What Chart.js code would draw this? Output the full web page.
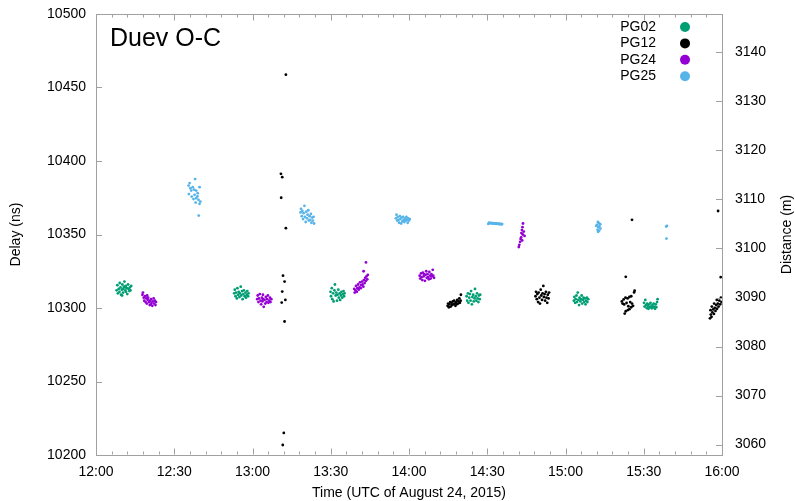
<!DOCTYPE html>
<html>
<head>
<meta charset="utf-8">
<title>Duev O-C</title>
<script src="https://cdn.jsdelivr.net/npm/chart.js@4.4.1/dist/chart.umd.min.js"></script>
<style>
  html, body { margin: 0; padding: 0; background: #fff; }
</style>
</head>
<body>
<canvas id="chart" width="795" height="501"></canvas>
<script>
// minutes after 12:00 UTC, delay in ns
const xTickLabels = ['12:00', '12:30', '13:00', '13:30', '14:00', '14:30', '15:00', '15:30', '16:00'];
const delayTicks = [10200, 10250, 10300, 10350, 10400, 10450, 10500];
const distanceTicks = [3060, 3070, 3080, 3090, 3100, 3110, 3120, 3130, 3140];
const seriesNames = ['PG02', 'PG12', 'PG24', 'PG25'];

const pg02 = [
  [7.9,10312],[8.2,10315.5],[8.4,10310],[8.7,10313],[9.0,10311],[9.1,10317],[9.4,10314],[9.6,10309],
  [9.9,10312.5],[10.1,10316],[10.3,10313],[10.4,10310.5],[10.7,10314.5],[10.9,10318],[11.2,10312],[11.4,10315],
  [11.5,10311],[11.8,10313.5],[12.0,10309.5],[12.3,10316],[12.5,10313],[12.8,10311.5],[13.0,10314],[13.2,10312],
  [13.5,10315],[10.0,10308.5],[11.1,10314],
  [53.0,10310],[53.2,10312.5],[53.5,10308],[53.7,10310.5],[54.0,10306.5],[54.2,10313.5],[54.5,10309],[54.7,10311],
  [55.0,10307.5],[55.2,10310],[55.5,10314.5],[55.7,10308.5],[56.0,10311.5],[56.2,10306],[56.5,10309.5],[56.7,10312],
  [57.0,10308],[57.3,10310.5],[57.5,10307],[57.8,10309],[58.0,10311.5],[58.3,10308],[58.5,10310],
  [89.9,10311],[90.1,10308],[90.4,10313.5],[90.6,10306],[90.9,10310],[91.1,10304.5],[91.4,10312],[91.6,10316],
  [91.9,10308.5],[92.1,10310.5],[92.4,10305],[92.6,10309],[92.9,10312.5],[93.1,10307],[93.4,10310],[93.6,10305.5],
  [93.9,10308.5],[94.1,10311],[94.4,10307],[94.6,10309.5],[94.9,10311.5],[95.1,10308],[95.3,10310],
  [142.1,10308],[142.3,10305],[142.6,10310],[142.8,10303.5],[143.1,10307],[143.3,10309.5],[143.6,10305],[143.8,10311.5],
  [144.1,10302.5],[144.3,10307.5],[144.6,10309],[144.8,10304.5],[145.1,10306.5],[145.3,10313],[145.6,10308],[145.8,10305],
  [146.1,10310],[146.3,10306.5],[146.6,10304],[146.8,10308.5],[147.1,10306],[147.3,10309],
  [183.2,10305],[183.4,10307.5],[183.7,10303.5],[183.9,10306],[184.2,10308.5],[184.4,10304],[184.7,10310.5],[184.9,10305.5],
  [185.2,10302],[185.4,10307],[185.7,10304.5],[185.9,10306],[186.2,10308.5],[186.4,10303],[186.7,10305.5],[186.9,10307],
  [187.2,10304],[187.4,10306.5],[187.7,10302.5],[187.9,10305],[188.2,10307],[188.4,10304],[188.7,10306],
  [210.1,10303.5],[210.3,10301],[210.6,10305.5],[210.8,10302],[211.1,10300],[211.3,10303],[211.6,10301.5],[211.8,10299.5],
  [212.1,10302.5],[212.3,10300.5],[212.6,10303.5],[212.8,10301],[213.1,10299.8],[213.3,10302],[213.6,10300.5],[213.8,10303],
  [214.1,10301],[214.3,10299.5],[214.6,10302.5],[214.8,10300.5],[215.1,10304],[215.3,10306]
];

const pg12 = [
  [72.8,10458.7],[70.9,10391.3],[71.4,10389],[71.0,10375],[72.8,10354.3],[71.7,10322],[72.3,10318],
  [71.4,10311.2],[72.6,10305.5],[71.2,10303.7],[72.3,10290.8],[72.0,10215],[71.6,10206.8],
  [134.8,10301.5],[135.0,10303],[135.3,10300.5],[135.5,10302.5],[135.8,10304],[136.0,10301],[136.3,10303.5],[136.5,10302],
  [136.8,10304.5],[137.0,10302.5],[137.3,10305],[137.5,10303],[137.8,10301.5],[138.0,10304],[138.3,10302.5],[138.5,10305.5],
  [138.8,10303],[139.0,10304.5],[139.3,10306.5],[139.5,10303.5],[139.8,10305],[139.9,10309],
  [168.5,10308],[168.7,10311],[169.0,10306],[169.2,10309.5],[169.5,10304],[169.7,10310.5],[170.0,10307],[170.2,10303],
  [170.5,10312.5],[170.7,10308.5],[171.0,10305.5],[171.2,10310],[171.5,10315],[171.7,10307.5],[172.0,10309.5],[172.2,10305],
  [172.5,10311],[172.7,10307],[173.0,10303.5],[173.2,10309],[173.5,10306.5],[173.7,10310.5],
  [206.5,10311.8],[206.3,10310.6],[205.2,10308],[204.5,10307.5],[203.8,10306.5],[203.0,10307],[202.3,10305.8],
  [201.6,10304.5],[201.9,10303],[202.5,10302.4],[203.4,10303.4],[204.8,10304],[205.5,10303],[205.9,10301.5],
  [205.2,10300.5],[204.5,10299.2],[203.9,10298.6],[203.1,10297.8],[202.7,10296.2],[204.1,10301.2],
  [203.1,10321.2],[205.5,10360],
  [235.4,10293],[235.7,10295.5],[236.0,10294],[236.3,10297],[236.6,10299],[236.9,10296],[237.2,10300],[237.5,10298],
  [237.8,10302],[238.1,10299.5],[238.4,10303],[238.7,10301],[239.0,10305],[239.3,10302.5],[239.6,10307],[239.8,10304],
  [236.1,10301],[237.0,10303],[238.0,10305.5],[235.6,10298.5],[238.5,10366],[239.5,10321]
];

const pg24 = [
  [17.8,10309],[18.0,10310.5],[18.3,10307],[18.5,10305],[18.8,10308],[19.0,10304],[19.3,10306.5],[19.5,10303],
  [19.8,10305.5],[20.0,10307],[20.3,10304],[20.6,10302],[20.8,10305],[21.1,10306],[21.3,10303.5],[21.6,10301.5],
  [21.8,10304.5],[22.1,10306.5],[22.3,10303],[22.6,10305],[22.8,10302],[23.0,10304],[19.6,10308.5],[21.0,10302.5],
  [61.8,10306],[62.0,10308.5],[62.3,10304],[62.5,10306.5],[62.8,10309.5],[63.1,10305],[63.3,10302.5],[63.6,10307],
  [63.8,10304.5],[64.1,10306],[64.3,10300.8],[64.6,10305.5],[64.9,10303],[65.1,10307.5],[65.4,10304],[65.6,10306],
  [65.9,10308.5],[66.1,10303.5],[66.4,10305],[66.7,10307],[66.9,10304],[67.2,10306],[64.0,10309],
  [99.0,10313],[99.2,10310.5],[99.5,10312],[99.7,10315],[100.0,10311],[100.2,10313.5],[100.5,10316],[100.7,10312.5],
  [101.0,10314],[101.2,10317.5],[101.5,10313.5],[101.7,10315.5],[102.0,10318],[102.2,10316],[102.5,10314.5],[102.7,10319],
  [103.0,10317],[103.2,10320.5],[103.5,10318.5],[103.7,10321.5],[104.0,10319.5],[104.2,10322.5],[103.5,10331],[102.6,10325],
  [124.1,10322],[124.3,10320],[124.6,10323.5],[124.8,10321],[125.1,10319],[125.3,10324],[125.6,10321.5],[125.8,10323],
  [126.1,10318.5],[126.3,10322.5],[126.6,10325],[126.8,10320.5],[127.1,10323],[127.3,10321],[127.6,10319.5],[127.8,10324.5],
  [128.1,10322],[128.3,10320],[128.6,10323],[128.8,10321.5],[129.1,10326],[129.3,10322],[129.6,10320.5],
  [163.7,10357.5],[163.5,10355],[163.3,10353],[164.0,10352],[163.1,10351],[163.6,10350],[164.3,10349],
  [163.0,10348],[162.8,10347],[163.4,10346],[162.6,10345],[162.3,10343],[162.1,10341.5]
];

const pg25 = [
  [38.0,10387.7],[35.9,10385.0],[35.5,10383.3],[37.1,10382.2],[39.7,10382.2],[36.5,10379.9],[38.4,10379.9],
  [35.6,10377.5],[37.8,10377.0],[39.0,10378.1],[36.7,10375.8],[37.4,10374.1],[38.4,10374.7],[39.3,10373.6],
  [40.0,10372.4],[38.2,10371.7],[39.7,10370.9],[39.4,10362.9],[36.2,10381.5],[37.6,10380.5],[38.9,10376],
  [78.4,10365],[78.6,10367.5],[78.9,10362.5],[79.1,10366],[79.4,10360.5],[79.6,10364.5],[79.9,10369.5],[80.1,10362],
  [80.4,10358.5],[80.6,10365.5],[80.9,10361],[81.1,10363.5],[81.4,10366.5],[81.6,10359.5],[81.9,10362.5],[82.1,10360],
  [82.4,10364],[82.6,10358],[82.9,10361.5],[83.1,10359.5],[83.4,10362],[83.6,10357.5],
  [115.0,10361],[115.2,10363.5],[115.5,10359.5],[115.7,10362],[116.0,10360],[116.2,10358],[116.5,10362.5],[116.7,10360.5],
  [117.0,10357.5],[117.2,10361.5],[117.5,10359],[117.7,10362],[118.0,10360],[118.2,10358.5],[118.5,10361],[118.7,10359.5],
  [119.0,10362],[119.2,10360],[119.5,10358],[119.7,10361],[120.0,10359.5],[120.3,10360.5],
  [150.4,10357.2],[150.7,10358],[151.0,10357.8],[151.3,10357.6],[151.6,10357.9],[151.9,10357.5],[152.2,10357.7],
  [152.5,10357.4],[152.8,10357.6],[153.1,10357.3],[153.4,10357.5],[153.7,10357.2],[154.0,10357.4],[154.3,10357.1],
  [154.6,10357.3],[154.9,10357.0],[155.2,10357.2],[155.5,10356.9],[155.7,10357.1],
  [192.4,10358.5],[192.8,10357.8],[193.3,10357],[192.1,10356.5],[193.0,10355.5],[192.6,10354.8],[193.4,10354],
  [192.3,10353.2],[192.9,10352.5],[192.5,10351.8],[191.8,10355.8],
  [218.6,10355.4],[218.9,10355.9],[218.7,10347.2]
];

const C = 0.299792458; // m per ns
const colors = ['#009e73', '#000000', '#9400d3', '#56b4e9'];
const AXIS_GRAY = '#a0a0a0';
const FONT = "'Liberation Sans', Arial, Helvetica, sans-serif";

Chart.defaults.font.family = FONT;
Chart.defaults.color = '#000';

const toXY = arr => arr.map(p => ({ x: p[0], y: p[1] }));
const allSeries = [pg02, pg12, pg24, pg25];

function line(ctx, x1, y1, x2, y2) {
  ctx.beginPath();
  ctx.moveTo(x1, y1);
  ctx.lineTo(x2, y2);
  ctx.stroke();
}

const framePlugin = {
  id: 'frame',
  afterDraw(chart) {
    const ctx = chart.ctx;
    const a = chart.chartArea;
    const sx = chart.scales.x, sy = chart.scales.y, sy2 = chart.scales.y2;
    ctx.save();
    ctx.strokeStyle = AXIS_GRAY;
    ctx.lineWidth = 1;
    const top = Math.round(a.top) + 0.5;
    const bottom = Math.round(a.bottom) - 0.5;
    line(ctx, a.left, top, a.right, top);

    // x ticks, major every 30 min, minor every 6 min, both edges
    for (let m = 0; m <= 240; m += 6) {
      const px = Math.round(sx.getPixelForValue(m)) + 0.5;
      const len = m % 30 === 0 ? 6 : 3;
      line(ctx, px, bottom, px, bottom - len);
      line(ctx, px, top, px, top + len);
    }
    delayTicks.forEach(v => {
      const py = Math.round(sy.getPixelForValue(v)) + 0.5;
      line(ctx, a.left, py, a.left + 6, py);
    });
    distanceTicks.forEach(v => {
      const py = Math.round(sy2.getPixelForValue(v)) + 0.5;
      line(ctx, a.right, py, a.right - 6, py);
    });

    // title
    ctx.fillStyle = '#000';
    ctx.font = '25px ' + FONT;
    ctx.textAlign = 'left';
    ctx.textBaseline = 'alphabetic';
    ctx.fillText('Duev O-C', 110, 46);

    // legend
    ctx.font = '14px ' + FONT;
    ctx.textAlign = 'right';
    ctx.textBaseline = 'middle';
    seriesNames.forEach((name, i) => {
      const cy = 27 + i * 16.4;
      ctx.fillStyle = '#000';
      ctx.fillText(name, 656, cy);
      ctx.fillStyle = colors[i];
      ctx.beginPath();
      ctx.arc(685, cy, 5, 0, Math.PI * 2);
      ctx.fill();
    });

    // axis titles
    ctx.fillStyle = '#000';
    ctx.textAlign = 'center';
    ctx.textBaseline = 'middle';
    ctx.font = '14px ' + FONT;
    ctx.fillText('Time (UTC of August 24, 2015)', (a.left + a.right) / 2, 493);
    ctx.save();
    ctx.translate(16, (a.top + a.bottom) / 2);
    ctx.rotate(-Math.PI / 2);
    ctx.fillText('Delay (ns)', 0, 0);
    ctx.restore();
    ctx.save();
    ctx.translate(787, (a.top + a.bottom) / 2);
    ctx.rotate(-Math.PI / 2);
    ctx.fillText('Distance (m)', 0, 0);
    ctx.restore();
    ctx.restore();
  }
};

new Chart(document.getElementById('chart'), {
  type: 'scatter',
  data: {
    datasets: seriesNames.map((name, i) => ({
      label: name,
      data: toXY(allSeries[i]),
      pointRadius: 1.4,
      pointBorderWidth: 0,
      pointBackgroundColor: colors[i],
      pointHoverRadius: 1.4
    }))
  },
  options: {
    responsive: false,
    animation: false,
    layout: { padding: { top: 14, left: 0, right: 0, bottom: 0 } },
    plugins: {
      legend: { display: false },
      tooltip: { enabled: false }
    },
    scales: {
      x: {
        type: 'linear',
        position: 'bottom',
        min: 0,
        max: 240,
        afterBuildTicks: s => { s.ticks = xTickLabels.map((t, i) => ({ value: i * 30 })); },
        ticks: {
          padding: 9,
          maxRotation: 0,
          autoSkip: false,
          font: { size: 14 },
          callback: v => xTickLabels[Math.round(v / 30)]
        },
        grid: { display: false, drawTicks: false, tickLength: 0 },
        border: { display: true, color: AXIS_GRAY },
        afterFit: s => { s.height = 46; s.paddingTop = 0; s.paddingBottom = 0; }
      },
      y: {
        type: 'linear',
        position: 'left',
        min: 10200,
        max: 10500,
        afterBuildTicks: s => { s.ticks = delayTicks.map(v => ({ value: v })); },
        ticks: { padding: 10, font: { size: 14 }, callback: v => String(v) },
        grid: { display: false, drawTicks: false, tickLength: 0 },
        border: { display: true, color: AXIS_GRAY },
        afterFit: s => { s.width = 96; s.paddingTop = 0; s.paddingBottom = 0; }
      },
      y2: {
        type: 'linear',
        position: 'right',
        min: 10200 * C,
        max: 10500 * C,
        afterBuildTicks: s => { s.ticks = distanceTicks.map(v => ({ value: v })); },
        ticks: { padding: 13, font: { size: 14 }, callback: v => String(v) },
        grid: { display: false, drawTicks: false, tickLength: 0 },
        border: { display: true, color: AXIS_GRAY },
        afterFit: s => { s.width = 73; s.paddingTop = 0; s.paddingBottom = 0; }
      }
    }
  },
  plugins: [framePlugin]
});
</script>
</body>
</html>
